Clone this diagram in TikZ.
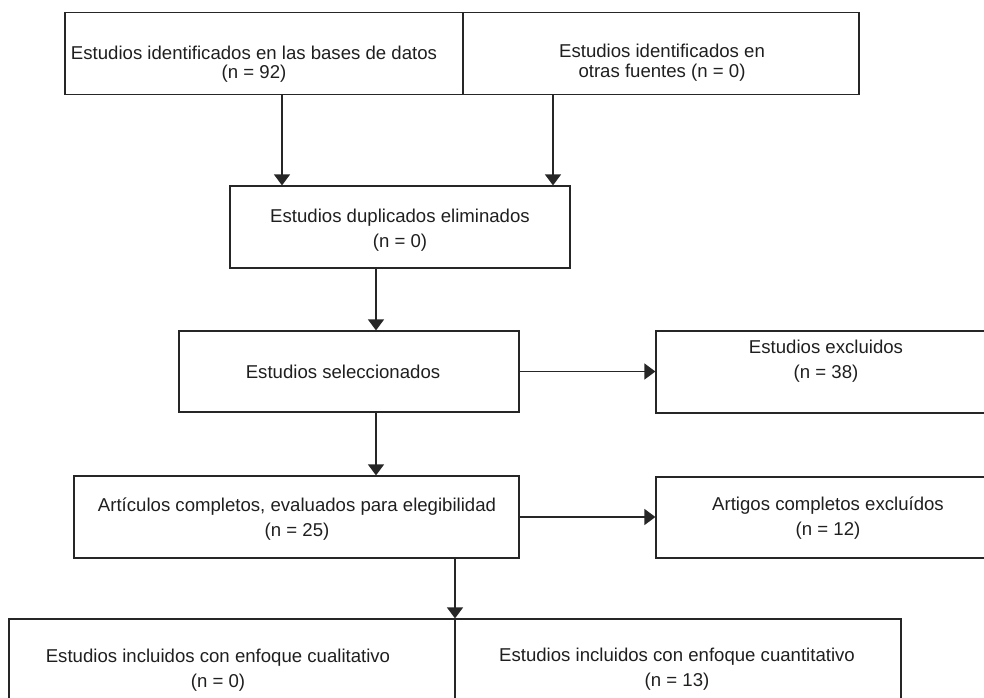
\documentclass[tikz,border=0pt]{standalone}
\usepackage{fontspec}
\setmainfont{Liberation Sans}
\usetikzlibrary{arrows.meta}
\begin{document}
\begin{tikzpicture}[x=1pt,y=-1pt,
  box/.style={draw=black!85, line width=1.2pt, rectangle, inner sep=0pt},
  txt/.style={align=center, text=black!88, inner sep=0pt},
  tight/.style={font=\fontsize{18.6}{19.5}\selectfont},
  loose/.style={font=\fontsize{18.6}{25}\selectfont},
  arr/.style={draw=black!85, line width=1.2pt, -{Triangle[length=11pt,width=16pt]}}]
\clip (0,0) rectangle (984,697);
\useasboundingbox (0,0) rectangle (984,697);
% boxes
\node[box, minimum width=398pt, minimum height=81.6pt] (a) at (264,53.5) {};
\node[box, minimum width=396pt, minimum height=81.6pt] (b) at (661,53.5) {};
\node[box, minimum width=340pt, minimum height=82pt] (c) at (400,227) {};
\node[box, minimum width=340pt, minimum height=81pt] (d) at (349,371.5) {};
\node[box, minimum width=340pt, minimum height=82pt] (e) at (826,372) {};
\node[box, minimum width=445pt, minimum height=82pt] (f) at (296.5,517) {};
\node[box, minimum width=340pt, minimum height=81pt] (g) at (826,517.5) {};
\node[box, minimum width=446pt, minimum height=101pt] (h) at (232,669.5) {};
\node[box, minimum width=446pt, minimum height=101pt] (k) at (678,669.5) {};
% texts
\node[txt, tight] (ta) at (254,64) {Estudios identificados en las bases de datos\\(n = 92)};
\node[txt, tight] (tb) at (662,62.5) {Estudios identificados en\\otras fuentes (n = 0)};
\node[txt, loose] (tc) at (400,230) {Estudios duplicados eliminados\\(n = 0)};
\node[txt, loose] (td) at (343,372) {Estudios seleccionados};
\node[txt, loose] (te) at (826,361) {Estudios excluidos\\(n = 38)};
\node[txt, loose] (tf) at (297,519.5) {Artículos completos, evaluados para elegibilidad\\(n = 25)};
\node[txt, loose] (tg) at (828,518) {Artigos completos excluídos\\(n = 12)};
\node[txt, loose] (th) at (218,670) {Estudios incluidos con enfoque cualitativo\\(n = 0)};
\node[txt, loose] (tk) at (677,669) {Estudios incluidos con enfoque cuantitativo\\(n = 13)};
% connectors
\coordinate (a1) at ([xshift=18pt]a.south);
\coordinate (b1) at ([xshift=-108pt]b.south);
\coordinate (c1) at ([xshift=-24pt]c.south);
\coordinate (d1) at ([xshift=27pt]d.south);
\coordinate (f1) at ([xshift=158.5pt]f.south);
\draw[arr] (a1) -- (a1 |- c.north);
\draw[arr] (b1) -- (b1 |- c.north);
\draw[arr] (c1) -- (c1 |- d.north);
\draw[arr] (d.east) -- (d.east -| e.west);
\draw[arr] (d1) -- (d1 |- f.north);
\draw[arr] (f.east) -- (f.east -| g.west);
\draw[arr] (f1) -- (f1 |- h.north);
\end{tikzpicture}
\end{document}
